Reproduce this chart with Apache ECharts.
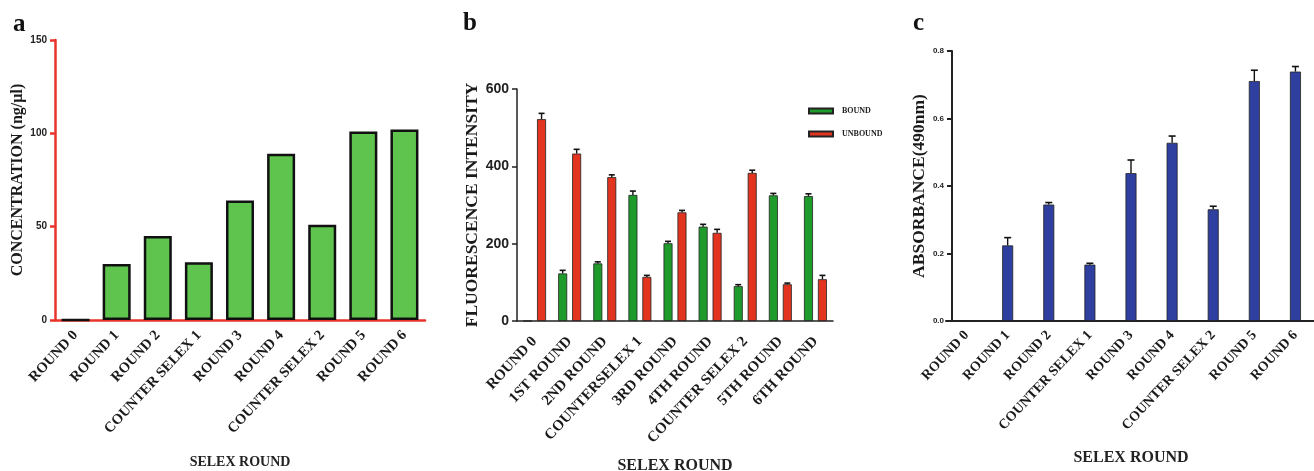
<!DOCTYPE html>
<html>
<head>
<meta charset="utf-8">
<script src="https://cdn.jsdelivr.net/npm/echarts@6/dist/echarts.min.js"></script>
<style>
  html, body { margin: 0; padding: 0; background: #fff; }
  #chart { width: 1314px; height: 471px; }
</style>
</head>
<body>
<div id="chart"></div>
<script>
// panel a - concentration
const roundsA = ['ROUND 0', 'ROUND 1', 'ROUND 2', 'COUNTER SELEX 1', 'ROUND 3', 'ROUND 4', 'COUNTER SELEX 2', 'ROUND 5', 'ROUND 6']
const concentration = [0, 30, 45, 31, 64, 89, 51, 101, 102]

// panel b - fluorescence, bound / unbound
const roundsB = ['ROUND 0', '1ST ROUND', '2ND ROUND', 'COUNTERSELEX 1', '3RD ROUND', '4TH ROUND', 'COUNTER SELEX 2', '5TH ROUND', '6TH ROUND']
const boundVals = [0, 123, 149, 326, 201, 244, 90, 325, 323]
const boundErr = [0, 8, 4, 10, 5, 6, 4, 5, 6]
const unboundVals = [522, 433, 372, 114, 281, 228, 383, 95, 108]
const unboundErr = [15, 11, 6, 4, 5, 9, 7, 3, 10]

// panel c - absorbance
const roundsC = ['ROUND 0', 'ROUND 1', 'ROUND 2', 'COUNTER SELEX 1', 'ROUND 3', 'ROUND 4', 'COUNTER SELEX 2', 'ROUND 5', 'ROUND 6']
const absorbance = [0, 0.224, 0.345, 0.167, 0.438, 0.528, 0.331, 0.711, 0.739]
const absorbanceErr = [0, 0.023, 0.006, 0.004, 0.039, 0.02, 0.009, 0.032, 0.015]

const SERIF = '"Liberation Serif", "Times New Roman", serif'
const SANS = '"Liberation Sans", Arial, sans-serif'
const RED_AXIS = '#e8332b'

const chart = echarts.init(document.getElementById('chart'))

// vertical error bar + cap, drawn above the bar top
function errorBars(offset, capHalf) {
  return function (params, api) {
    const i = api.value(0)
    const v = api.value(1)
    const e = api.value(2)
    if (!e) return null
    const base = api.coord([i, v])
    const top = api.coord([i, v + e])
    const x = base[0] + offset
    return {
      type: 'group',
      children: [
        { type: 'line', shape: { x1: x, y1: base[1], x2: x, y2: top[1] }, style: { stroke: '#111', lineWidth: 1.4 } },
        { type: 'line', shape: { x1: x - capHalf, y1: top[1], x2: x + capHalf, y2: top[1] }, style: { stroke: '#111', lineWidth: 1.6 } }
      ]
    }
  }
}

function catAxis(gridIndex, data, opts) {
  return {
    type: 'category',
    gridIndex: gridIndex,
    data: data,
    name: 'SELEX ROUND',
    nameLocation: 'middle',
    nameGap: opts.nameGap,
    nameTextStyle: { fontFamily: SERIF, fontWeight: 'bold', fontSize: opts.nameSize, color: '#222' },
    axisLine: { lineStyle: { color: opts.color, width: opts.width } },
    axisTick: { alignWithLabel: true, length: 6, lineStyle: { color: opts.color, width: opts.width } },
    axisLabel: { interval: 0, rotate: 47, margin: opts.margin, fontFamily: SERIF, fontWeight: 'bold', fontSize: opts.fontSize, color: '#1a1a1a' }
  }
}

function valAxis(gridIndex, opts) {
  return {
    type: 'value',
    gridIndex: gridIndex,
    offset: opts.offset || 0,
    min: opts.min,
    max: opts.max,
    interval: opts.interval,
    name: opts.name,
    nameLocation: 'middle',
    nameGap: opts.nameGap,
    nameTextStyle: { fontFamily: SERIF, fontWeight: 'bold', fontSize: opts.nameSize, color: '#1a1a1a' },
    axisLine: { show: true, lineStyle: { color: opts.color, width: opts.width } },
    axisTick: { show: true, length: 5, lineStyle: { color: opts.color, width: opts.width } },
    splitLine: { show: false },
    axisLabel: {
      margin: 8,
      fontFamily: SANS,
      fontWeight: 'bold',
      fontSize: opts.labelSize,
      color: '#222',
      formatter: opts.formatter
    }
  }
}

const letterStyle = { fontFamily: SERIF, fontWeight: 'bold', fontSize: 25, color: '#111' }

const option = {
  backgroundColor: '#fff',
  animation: false,
  title: [
    { text: 'a', left: 13, top: 12, padding: 0, textStyle: letterStyle },
    { text: 'b', left: 463, top: 11, padding: 0, textStyle: letterStyle },
    { text: 'c', left: 913, top: 11, padding: 0, textStyle: letterStyle }
  ],
  legend: {
    data: ['BOUND', 'UNBOUND'],
    orient: 'vertical',
    left: 808,
    top: 107,
    padding: 0,
    itemWidth: 24,
    itemHeight: 5,
    itemGap: 15,
    icon: 'rect',
    textStyle: { fontFamily: SERIF, fontWeight: 'bold', fontSize: 8, color: '#222', padding: [0, 0, 0, 4] }
  },
  grid: [
    { left: 55, top: 40, width: 370, height: 280, outerBoundsMode: 'none' },
    { left: 517, top: 89, width: 316, height: 232, outerBoundsMode: 'none' },
    { left: 946, top: 51, width: 370, height: 270, outerBoundsMode: 'none' }
  ],
  xAxis: [
    catAxis(0, roundsA, { color: RED_AXIS, width: 2.5, fontSize: 14.5, margin: 13, nameGap: 135, nameSize: 14 }),
    catAxis(1, roundsB, { color: '#222', width: 1.5, fontSize: 15, margin: 18, nameGap: 137, nameSize: 16 }),
    catAxis(2, roundsC, { color: '#222', width: 2, fontSize: 14, margin: 12, nameGap: 129, nameSize: 16 })
  ],
  yAxis: [
    valAxis(0, { min: 0, max: 150, interval: 50, name: 'CONCENTRATION (ng/µl)', nameGap: 29, nameSize: 16, color: RED_AXIS, width: 2.5, labelSize: 10 }),
    valAxis(1, { min: 0, max: 600, interval: 200, name: 'FLUORESCENCE INTENSITY', nameGap: 35, nameSize: 17.5, color: '#222', width: 1.5, labelSize: 14 }),
    valAxis(2, { offset: -6, min: 0, max: 0.8, interval: 0.2, name: 'ABSORBANCE(490nm)', nameGap: 21, nameSize: 17.5, color: '#222', width: 2, labelSize: 8, formatter: v => v.toFixed(1) })
  ],
  series: [
    {
      name: 'Concentration',
      type: 'bar',
      xAxisIndex: 0,
      yAxisIndex: 0,
      data: concentration,
      barWidth: 28,
      itemStyle: { color: '#5ec44e', borderColor: '#111', borderWidth: 2.5 }
    },
    {
      name: 'BOUND',
      type: 'bar',
      xAxisIndex: 1,
      yAxisIndex: 1,
      data: boundVals,
      barWidth: 9,
      barGap: '55%',
      itemStyle: { color: '#1f9b2b', borderColor: '#222', borderWidth: 0.8 }
    },
    {
      name: 'UNBOUND',
      type: 'bar',
      xAxisIndex: 1,
      yAxisIndex: 1,
      data: unboundVals,
      barWidth: 9,
      barGap: '55%',
      itemStyle: { color: '#e2341f', borderColor: '#222', borderWidth: 0.8 }
    },
    {
      name: 'Bound error',
      type: 'custom',
      xAxisIndex: 1,
      yAxisIndex: 1,
      z: 5,
      renderItem: errorBars(-7, 3),
      data: boundVals.map((v, i) => [i, v, boundErr[i]])
    },
    {
      name: 'Unbound error',
      type: 'custom',
      xAxisIndex: 1,
      yAxisIndex: 1,
      z: 5,
      renderItem: errorBars(7, 3),
      data: unboundVals.map((v, i) => [i, v, unboundErr[i]])
    },
    {
      name: 'Absorbance',
      type: 'bar',
      xAxisIndex: 2,
      yAxisIndex: 2,
      data: absorbance,
      barWidth: 11,
      itemStyle: { color: '#2f3f9f', borderColor: '#222', borderWidth: 0.8 }
    },
    {
      name: 'Absorbance error',
      type: 'custom',
      xAxisIndex: 2,
      yAxisIndex: 2,
      z: 5,
      renderItem: errorBars(0, 3.5),
      data: absorbance.map((v, i) => [i, v, absorbanceErr[i]])
    }
  ]
}

chart.setOption(option)
</script>
</body>
</html>
